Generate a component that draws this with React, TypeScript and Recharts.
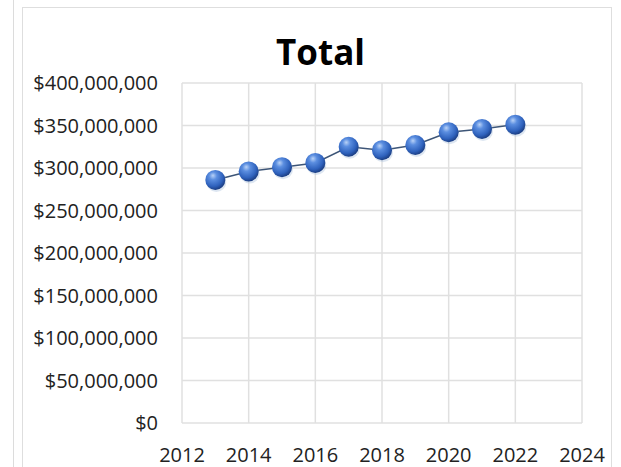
import { LineChart, Line, XAxis, YAxis, CartesianGrid } from 'recharts';

const years = [2013, 2014, 2015, 2016, 2017, 2018, 2019, 2020, 2021, 2022];
const totals = [
  286000000, 296000000, 301000000, 306000000, 325000000, 321000000, 327000000, 342000000,
  346000000, 351000000,
];
const xTicks = [2012, 2014, 2016, 2018, 2020, 2022, 2024];
const yTicks = [0, 50000000, 100000000, 150000000, 200000000, 250000000, 300000000, 350000000, 400000000];

const data = years.map((year, i) => ({ year, total: totals[i] }));

const FONT = '"Open Sans", "DejaVu Sans", sans-serif';

const formatDollars = (v: number) => '$' + v.toLocaleString('en-US');

// glossy sphere marker, like the old Office style
function Ball(props: { cx?: number; cy?: number; index?: number }) {
  const { cx, cy, index } = props;
  if (cx == null || cy == null) return null;
  return (
    <g key={`ball-${index}`}>
      <circle cx={cx + 1} cy={cy + 2} r={10} fill="#9fb6d8" opacity={0.35} />
      <circle cx={cx} cy={cy} r={10} fill="url(#ballGradient)" />
    </g>
  );
}

export default function App() {
  return (
    <div
      style={{
        position: 'fixed',
        left: 0,
        top: 0,
        width: 621,
        height: 467,
        background: '#fff',
        overflow: 'hidden',
        fontFamily: FONT,
      }}
    >
      {/* panel borders */}
      <div style={{ position: 'absolute', left: 13, top: 0, width: 1, height: 467, background: '#dcdcdc' }} />
      <div
        style={{
          position: 'absolute',
          left: 22,
          top: 7,
          width: 590,
          height: 470,
          border: '1px solid #dedede',
          boxSizing: 'border-box',
        }}
      />
      <div
        style={{
          position: 'absolute',
          left: 20,
          width: 601,
          top: 32,
          textAlign: 'center',
          fontSize: 35,
          fontWeight: 700,
          color: '#000',
          lineHeight: '40px',
        }}
      >
        Total
      </div>
      <div style={{ position: 'absolute', left: 0, top: 0 }}>
        <LineChart
          width={621}
          height={467}
          data={data}
          margin={{ top: 83, right: 39, bottom: 0, left: 0 }}
        >
          <defs>
            <radialGradient id="ballGradient" cx="40%" cy="35%" r="65%" fx="38%" fy="28%">
              <stop offset="0%" stopColor="#b9d2f7" />
              <stop offset="30%" stopColor="#5b8ee0" />
              <stop offset="75%" stopColor="#2f62bd" />
              <stop offset="100%" stopColor="#1c3f85" />
            </radialGradient>
          </defs>
          <CartesianGrid stroke="#e0e0e0" strokeWidth={1.5} />
          <XAxis
            dataKey="year"
            type="number"
            domain={[2012, 2024]}
            ticks={xTicks}
            axisLine={false}
            tickLine={false}
            tickSize={0}
            tickMargin={25}
            height={44}
            tick={{ fontSize: 20, fill: '#222', fontFamily: FONT }}
          />
          <YAxis
            type="number"
            domain={[0, 400000000]}
            ticks={yTicks}
            axisLine={false}
            tickLine={false}
            tickSize={0}
            tickMargin={24}
            width={182}
            tickFormatter={formatDollars}
            tick={{ fontSize: 20, fill: '#222', fontFamily: FONT }}
          />
          <Line
            type="linear"
            dataKey="total"
            stroke="#3d5577"
            strokeWidth={1.5}
            dot={<Ball />}
            activeDot={false}
            isAnimationActive={false}
          />
        </LineChart>
      </div>
    </div>
  );
}
